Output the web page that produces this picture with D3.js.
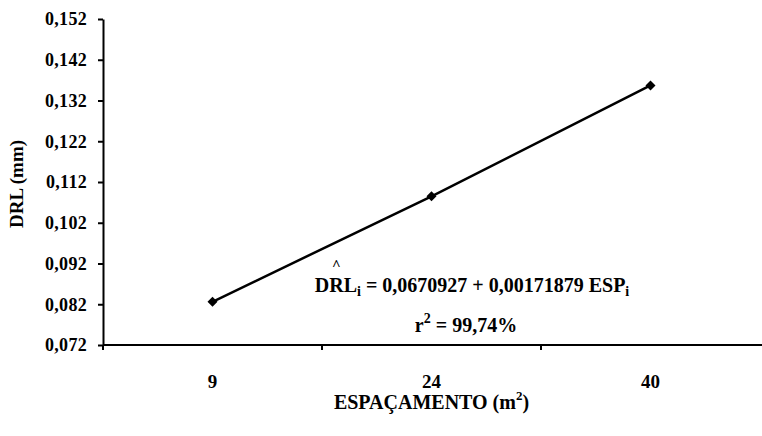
<!DOCTYPE html>
<html>
<head>
<meta charset="utf-8">
<script src="https://cdn.jsdelivr.net/npm/d3@7"></script>
<style>
  html, body { margin: 0; padding: 0; background: #fff; }
  svg { display: block; }
  text { font-family: "Liberation Serif", "Times New Roman", serif; font-weight: bold; fill: #000; }
</style>
</head>
<body>
<svg id="chart" width="762" height="436"></svg>
<script>
// Spacing categories (m²) and measured DRL (mm)
const espacamento = ["9", "24", "40"];
const drl = [0.0826, 0.1085, 0.1357];
const yTicks = [0.072, 0.082, 0.092, 0.102, 0.112, 0.122, 0.132, 0.142, 0.152];

const svg = d3.select("#chart");
const plotLeft = 103, plotRight = 760, plotTop = 19, plotBottom = 345;

const x = d3.scaleBand().domain(espacamento).range([plotLeft, plotRight]);
const y = d3.scaleLinear().domain([0.072, 0.152]).range([plotBottom, plotTop]);

const fmt = d => d3.format(".3f")(d).replace(".", ",");

// Y axis
const yAxis = svg.append("g")
  .attr("transform", `translate(${plotLeft},0)`)
  .call(d3.axisLeft(y).tickValues(yTicks).tickFormat(fmt).tickSize(5).tickSizeOuter(0).tickPadding(11));
yAxis.select(".domain").attr("stroke", "#000").attr("stroke-width", 2);
yAxis.selectAll(".tick line").attr("stroke", "#000").attr("stroke-width", 2);
yAxis.selectAll(".tick text").style("font-size", "18px").style("letter-spacing", "0.3px");

// X axis labels at category centres
const xAxis = svg.append("g")
  .attr("transform", `translate(0,${plotBottom})`)
  .call(d3.axisBottom(x).tickSize(0).tickPadding(30));
xAxis.select(".domain").remove();
xAxis.selectAll(".tick text").style("font-size", "19px");

// X axis line and category boundary ticks
svg.append("line")
  .attr("x1", plotLeft).attr("x2", 762).attr("y1", plotBottom).attr("y2", plotBottom)
  .attr("stroke", "#000").attr("stroke-width", 2);
const bounds = espacamento.map(d => x(d));
svg.selectAll(".xb").data(bounds).join("line")
  .attr("class", "xb")
  .attr("x1", d => d).attr("x2", d => d)
  .attr("y1", plotBottom).attr("y2", plotBottom + 5)
  .attr("stroke", "#000").attr("stroke-width", 2);

// Axis titles
svg.append("text")
  .attr("transform", "translate(23,184) rotate(-90)")
  .attr("text-anchor", "middle")
  .style("font-size", "19px")
  .text("DRL (mm)");

const xt = svg.append("text")
  .attr("x", (plotLeft + plotRight) / 2).attr("y", 409)
  .attr("text-anchor", "middle")
  .style("font-size", "20px");
xt.append("tspan").text("ESPAÇAMENTO (m");
xt.append("tspan").attr("dy", -9).style("font-size", "13px").text("2");
xt.append("tspan").attr("dy", 9).text(")");

// Series line and markers
const pts = espacamento.map((d, i) => [x(d) + x.bandwidth() / 2, y(drl[i])]);
svg.append("path")
  .attr("d", d3.line()(pts))
  .attr("fill", "none").attr("stroke", "#000").attr("stroke-width", 2.5);
svg.selectAll(".pt").data(pts).join("path")
  .attr("class", "pt")
  .attr("transform", d => `translate(${d[0]},${d[1]}) rotate(45)`)
  .attr("d", d3.symbol(d3.symbolSquare, 50)())
  .attr("fill", "#000");

// Regression equation
const eq = svg.append("text")
  .attr("x", 472).attr("y", 292)
  .attr("text-anchor", "middle")
  .style("font-size", "20px");
eq.append("tspan").text("DRL");
eq.append("tspan").attr("dy", 4).style("font-size", "14px").text("i");
eq.append("tspan").attr("dy", -4).text(" = 0,0670927 + 0,00171879 ESP");
eq.append("tspan").attr("dy", 4).style("font-size", "14px").text("i");

// Circumflex marking the estimate, centred over the "R"
const rExt = eq.node().getExtentOfChar(1);
svg.append("text")
  .attr("x", rExt.x + rExt.width / 2).attr("y", 270)
  .attr("text-anchor", "middle")
  .style("font-size", "15px")
  .text("^");

const r2 = svg.append("text")
  .attr("x", 466).attr("y", 332)
  .attr("text-anchor", "middle")
  .style("font-size", "20px");
r2.append("tspan").text("r");
r2.append("tspan").attr("dy", -9).style("font-size", "14px").text("2");
r2.append("tspan").attr("dy", 9).text(" = 99,74%");
</script>
</body>
</html>
